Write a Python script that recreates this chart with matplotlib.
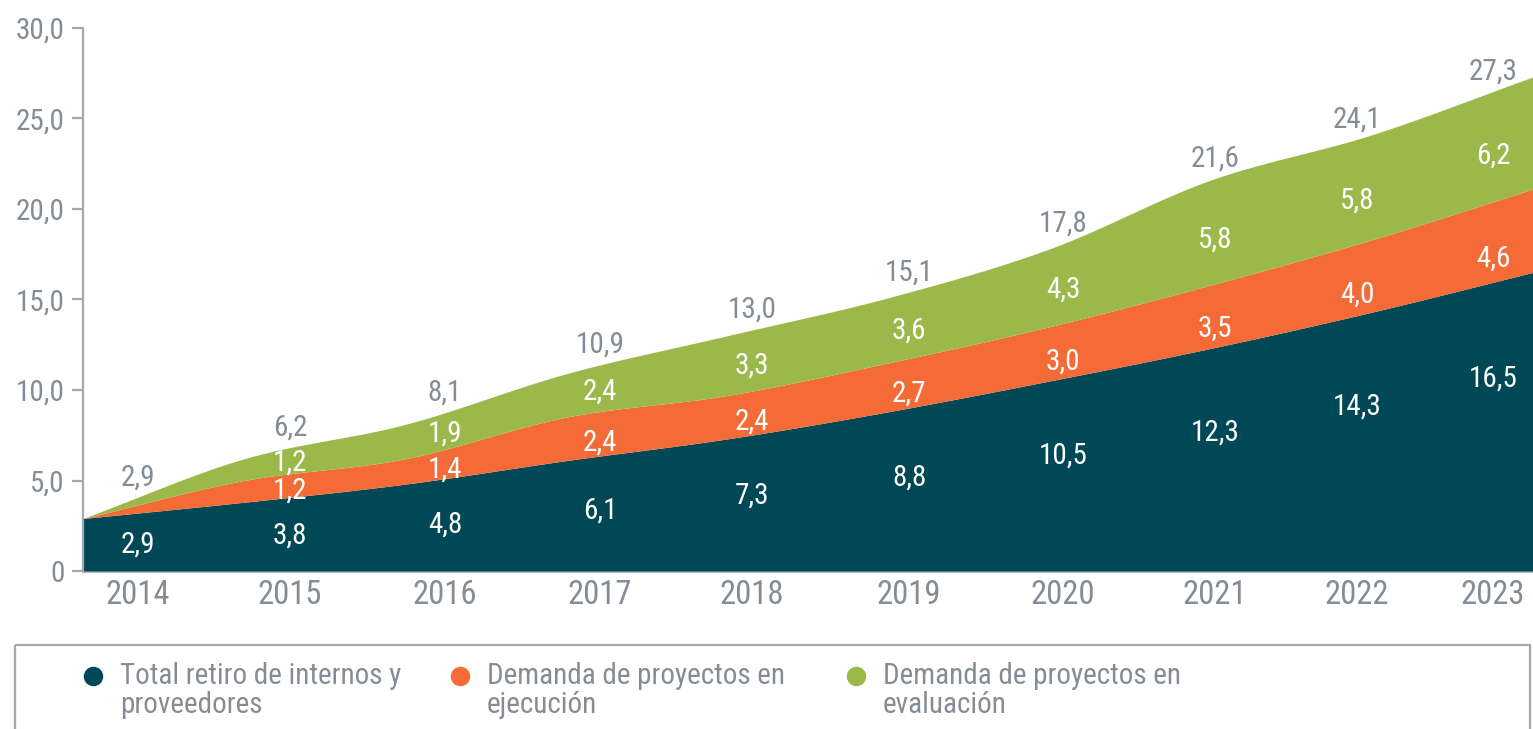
import numpy as np
import matplotlib
matplotlib.use("Agg")
import matplotlib.pyplot as plt
from matplotlib.patches import Rectangle
from matplotlib import font_manager as fm

names = {f.name for f in fm.fontManager.ttflist}
if "Roboto Condensed" in names:
    plt.rcParams['font.family'] = ['Roboto Condensed', 'DejaVu Sans']
else:
    plt.rcParams['font.family'] = ['DejaVu Sans']
    plt.rcParams['font.stretch'] = 'condensed'

# ---------------- data ----------------
years = ["2014", "2015", "2016", "2017", "2018", "2019", "2020", "2021", "2022", "2023"]
retiro = [2.9, 3.8, 4.8, 6.1, 7.3, 8.8, 10.5, 12.3, 14.3, 16.5]
ejecucion = [0.0, 1.2, 1.4, 2.4, 2.4, 2.7, 3.0, 3.5, 4.0, 4.6]
evaluacion = [0.0, 1.2, 1.9, 2.4, 3.3, 3.6, 4.3, 5.8, 5.8, 6.2]
totales = [2.9, 6.2, 8.1, 10.9, 13.0, 15.1, 17.8, 21.6, 24.1, 27.3]
series_names = ["Total retiro de internos y\nproveedores",
                "Demanda de proyectos en\nejecución",
                "Demanda de proyectos en\nevaluación"]
yticks = [0, 5, 10, 15, 20, 25, 30]
ytick_labels = ["0", "5,0", "10,0", "15,0", "20,0", "25,0", "30,0"]

# ---------------- layout ----------------
colors = ["#004856", "#f46b37", "#9bb84a"]
gray_text = "#848d95"
spine_col = "#a3a9ad"
label_pos = [0.341, 1.285, 2.247, 3.209, 4.153, 5.127, 6.083, 7.027, 7.908, 8.752]

W, H = 1533, 729
fig = plt.figure(figsize=(W / 100, H / 100), dpi=100)
ax = fig.add_axes([83 / W, (H - 571) / H, (W - 83) / W, (571 - 28) / H])

x = np.arange(len(years), dtype=float)


def smooth_eval(xq, xs, ys):
    ys = np.asarray(ys, dtype=float)
    n = len(ys)
    m = np.empty(n)
    m[1:-1] = (ys[2:] - ys[:-2]) / 2.0
    m[0] = ys[1] - ys[0]
    m[-1] = ys[-1] - ys[-2]
    xq = np.atleast_1d(np.asarray(xq, dtype=float))
    idx = np.clip(np.floor(xq).astype(int), 0, n - 2)
    t = xq - idx
    h00 = 2 * t**3 - 3 * t**2 + 1
    h10 = t**3 - 2 * t**2 + t
    h01 = -2 * t**3 + 3 * t**2
    h11 = t**3 - t**2
    return h00 * ys[idx] + h10 * m[idx] + h01 * ys[idx + 1] + h11 * m[idx + 1]


c1 = np.array(retiro)
c2 = c1 + np.array(ejecucion)
c3 = c2 + np.array(evaluacion)

xd = np.linspace(0, len(years) - 1, 600)
s1 = smooth_eval(xd, x, c1)
s2 = smooth_eval(xd, x, c2)
s3 = smooth_eval(xd, x, c3)

ax.fill_between(xd, 0, s1, color=colors[0], lw=0, zorder=2)
ax.fill_between(xd, s1, s2, color=colors[1], lw=0, zorder=2)
ax.fill_between(xd, s2, s3, color=colors[2], lw=0, zorder=2)

ax.set_xlim(0, len(years) - 1)
ax.set_ylim(0, 30)
ax.set_yticks(yticks)
ax.set_yticklabels(ytick_labels)
ax.set_xticks(label_pos)
ax.set_xticklabels(years)

for s in ["top", "right"]:
    ax.spines[s].set_visible(False)
ax.spines["left"].set_color(spine_col)
ax.spines["left"].set_linewidth(1.6)
ax.spines["bottom"].set_color("#b4babe")
ax.spines["bottom"].set_linewidth(2.2)
ax.spines["bottom"].set_zorder(1)
ax.tick_params(axis="y", length=8, width=1.6, color=spine_col, labelcolor=gray_text,
               labelsize=21, pad=5, direction="out")
ax.tick_params(axis="x", length=0, labelcolor=gray_text, labelsize=23.5, pad=6)
ax.set_facecolor("none")

# value labels
fs_val = 21
for i in range(len(years)):
    p = label_pos[i]
    d = smooth_eval(p, x, c1)[0]
    o = smooth_eval(p, x, c2)[0]
    g = smooth_eval(p, x, c3)[0]
    ax.text(p, d * (0.46 + 0.023 * i), f"{retiro[i]:.1f}".replace(".", ","),
            color="white", fontsize=fs_val, ha="center", va="center", zorder=5)
    if ejecucion[i] > 0:
        ax.text(p, d + 0.3 * (o - d), f"{ejecucion[i]:.1f}".replace(".", ","),
                color="white", fontsize=fs_val, ha="center", va="center", zorder=5)
    if evaluacion[i] > 0:
        ax.text(p, o + 0.42 * (g - o), f"{evaluacion[i]:.1f}".replace(".", ","),
                color="white", fontsize=fs_val, ha="center", va="center", zorder=5)
    ax.text(p, g + 1.1, f"{totales[i]:.1f}".replace(".", ","),
            color=gray_text, fontsize=fs_val, ha="center", va="center", zorder=5)

# legend (manual, in pixel coordinates of an overlay axes)
lax = fig.add_axes([0, 0, 1, 1], zorder=-1)
lax.set_xlim(0, W)
lax.set_ylim(H, 0)
lax.axis("off")
lax.add_patch(Rectangle((15, 645), 1515, 120, fill=False, edgecolor=spine_col, lw=1.6))
marker_x = [93, 460, 856]
for mx, col, name in zip(marker_x, colors, series_names):
    lax.plot([mx], [676], "o", ms=13, color=col, mec=col)
    lax.text(mx + 27, 662, name, color=gray_text, fontsize=21, ha="left", va="top",
             linespacing=1.05)

fig.savefig("out.png", dpi=100)
